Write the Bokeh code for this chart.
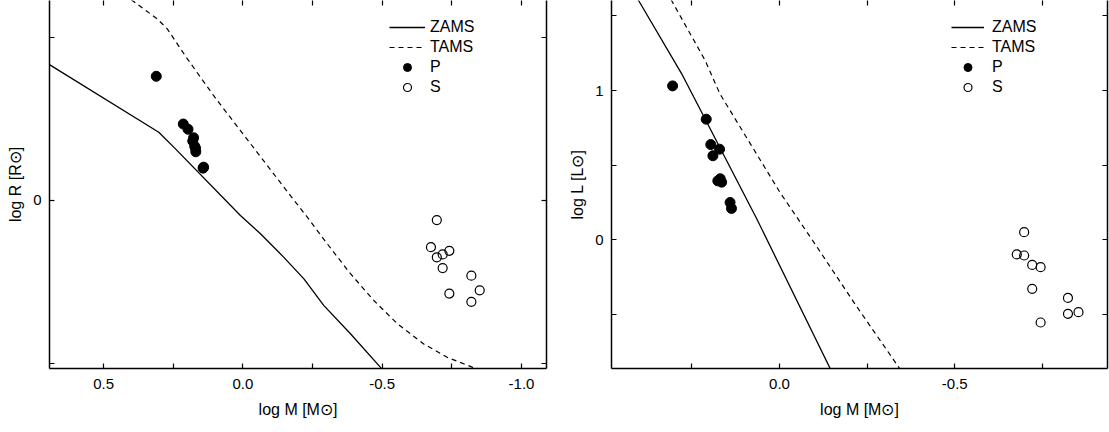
from bokeh.plotting import figure
from bokeh.models import (Range1d, FixedTicker, LinearAxis, Legend, LegendItem,
                          PrintfTickFormatter, CustomLabelingPolicy)
from bokeh.layouts import row
from bokeh.embed import file_html
from bokeh.resources import INLINE

# ---------------- data ----------------
# Left panel: log M vs log R
zams_R_logM = [0.72, 0.693, 0.302, 0.242, 0.009, -0.063, -0.147, -0.219, -0.290, -0.386, -0.497, -0.52]
zams_R_logR = [0.429, 0.415, 0.209, 0.158, -0.046, -0.102, -0.174, -0.240, -0.321, -0.408, -0.514, -0.535]
tams_R_logM = [0.45, 0.397, 0.308, 0.272, 0.204, 0.101, 0.009, -0.165, -0.231, -0.303, -0.386,
               -0.470, -0.554, -0.649, -0.733, -0.823, -0.853]
tams_R_logR = [0.65, 0.612, 0.556, 0.526, 0.439, 0.316, 0.214, 0.021, -0.051, -0.133, -0.224,
               -0.306, -0.377, -0.439, -0.480, -0.510, -0.517]
P_R_logM = [0.311, 0.214, 0.197, 0.177, 0.180, 0.173, 0.169, 0.170, 0.143, 0.141]
P_R_logR = [0.380, 0.234, 0.218, 0.192, 0.182, 0.166, 0.149, 0.160, 0.099, 0.102]
S_R_logM = [-0.696, -0.675, -0.696, -0.717, -0.741, -0.717, -0.820, -0.850, -0.741, -0.820]
S_R_logR = [-0.060, -0.143, -0.174, -0.165, -0.154, -0.207, -0.230, -0.275, -0.285, -0.310]

# Right panel: log M vs log L
zams_L_logM = [0.43, 0.402, 0.279, 0.065, -0.145, -0.16]
zams_L_logL = [1.75, 1.603, 1.112, 0.141, -0.864, -0.94]
tams_L_logM = [0.33, 0.308, 0.212, 0.170, -0.001, -0.101, -0.215, -0.340, -0.36]
tams_L_logL = [1.72, 1.603, 1.201, 0.978, 0.319, -0.027, -0.429, -0.853, -0.92]
P_L_logM = [0.305, 0.209, 0.196, 0.171, 0.190, 0.176, 0.165, 0.169, 0.141, 0.137]
P_L_logL = [1.031, 0.808, 0.638, 0.607, 0.563, 0.395, 0.386, 0.409, 0.250, 0.210]
S_L_logM = [-0.698, -0.677, -0.698, -0.721, -0.745, -0.721, -0.823, -0.853, -0.823, -0.745]
S_L_logL = [0.051, -0.098, -0.105, -0.168, -0.183, -0.328, -0.389, -0.485, -0.496, -0.554]

# ticks
left_x_major = [0.5, 0.0, -0.5, -1.0]
left_x_minor = [0.25, -0.25, -0.75]
left_y_major = [0.0]
left_y_minor = [-0.5, 0.5]
right_x_major = [0.0, -0.5]
right_x_minor = [0.25, -0.25, -0.75]
right_y_major = [0.0, 1.0]
right_y_minor = [-0.5, 0.5, 1.5]

legend_labels = ["ZAMS", "TAMS", "P", "S"]

FONT = "Liberation Sans"


def style_axis(ax, labels=True):
    ax.axis_line_width = 1.5
    ax.axis_line_color = "black"
    ax.major_tick_in = 5
    ax.major_tick_out = 0
    ax.minor_tick_in = 5
    ax.minor_tick_out = 0
    ax.major_tick_line_width = 1.2
    ax.minor_tick_line_width = 1.2
    ax.major_tick_line_color = "black"
    ax.minor_tick_line_color = "black"
    ax.major_label_text_font = FONT
    ax.major_label_text_color = "black"
    ax.major_label_text_font_size = "15px"
    ax.axis_label_text_font = FONT
    ax.axis_label_text_font_size = "16px"
    ax.axis_label_text_font_style = "normal"
    ax.axis_label_text_color = "black"
    if not labels:
        ax.major_label_standoff = 0
        ax.major_label_text_font_size = "0px"
        ax.major_label_policy = CustomLabelingPolicy(code="return []")


def make_panel(xr, yr, fw, fh, mbl, mbr, xmaj, xmin, ymaj, ymin, ylabel,
               zx, zy, tx, ty, px, py, sx, sy, glyph_w, standoff):
    p = figure(frame_width=fw, frame_height=fh,
               x_range=Range1d(*xr), y_range=Range1d(*yr),
               output_backend="svg", toolbar_location=None,
               min_border_left=mbl, min_border_right=mbr,
               min_border_top=0, min_border_bottom=56)
    p.grid.visible = False
    p.outline_line_color = None
    p.background_fill_color = "white"
    p.border_fill_color = "white"

    xt = FixedTicker(ticks=xmaj, minor_ticks=xmin)
    yt = FixedTicker(ticks=ymaj, minor_ticks=ymin)

    xa = p.xaxis[0]
    xa.ticker = xt
    xa.formatter = PrintfTickFormatter(format="%.1f")
    xa.axis_label = "log M [M\u2299]"
    style_axis(xa)
    xa.major_label_standoff = 10
    xa.axis_label_standoff = 9

    ya = p.yaxis[0]
    ya.ticker = yt
    ya.formatter = PrintfTickFormatter(format="%d")
    ya.axis_label = ylabel
    style_axis(ya)
    ya.major_label_standoff = 8
    ya.axis_label_standoff = 6

    ra = LinearAxis(ticker=yt)
    style_axis(ra, labels=False)
    p.add_layout(ra, "right")
    ta = LinearAxis(ticker=xt)
    style_axis(ta, labels=False)
    ta.axis_line_color = None
    p.add_layout(ta, "above")

    rz = p.line(zx, zy, line_color="black", line_width=1.3)
    rt = p.line(tx, ty, line_color="black", line_width=1.2, line_dash="5 4")
    rp = p.scatter(px, py, marker="circle", size=10, fill_color="black", line_color="black")
    rs = p.scatter(sx, sy, marker="circle", size=9, fill_color=None, line_color="black",
                   line_width=1.2)

    items = [LegendItem(label=legend_labels[0], renderers=[rz]),
             LegendItem(label=legend_labels[1], renderers=[rt]),
             LegendItem(label=legend_labels[2], renderers=[rp]),
             LegendItem(label=legend_labels[3], renderers=[rs])]
    lg = Legend(items=items, location=(340, 271), padding=0, spacing=0, margin=0,
                glyph_width=glyph_w, glyph_height=20, label_height=20,
                label_standoff=standoff, border_line_color=None,
                background_fill_alpha=0, label_text_font=FONT,
                label_text_font_size="16px", label_text_color="black")
    p.add_layout(lg)
    return p


p1 = make_panel((0.6942, -1.0897), (-0.5142, 0.612), 497, 368, 49, 20,
                left_x_major, left_x_minor, left_y_major, left_y_minor,
                "log R [R\u2299]",
                zams_R_logM, zams_R_logR, tams_R_logM, tams_R_logR,
                P_R_logM, P_R_logR, S_R_logM, S_R_logR, 36, 5)

p2 = make_panel((0.4793, -0.9358), (-0.862, 1.603), 496, 368, 42, 2,
                right_x_major, right_x_minor, right_y_major, right_y_minor,
                "log L [L\u2299]",
                zams_L_logM, zams_L_logL, tams_L_logM, tams_L_logL,
                P_L_logM, P_L_logL, S_L_logM, S_L_logL, 33, 8)

layout = row(p1, p2)
open("out.html", "w").write(file_html(layout, INLINE))
